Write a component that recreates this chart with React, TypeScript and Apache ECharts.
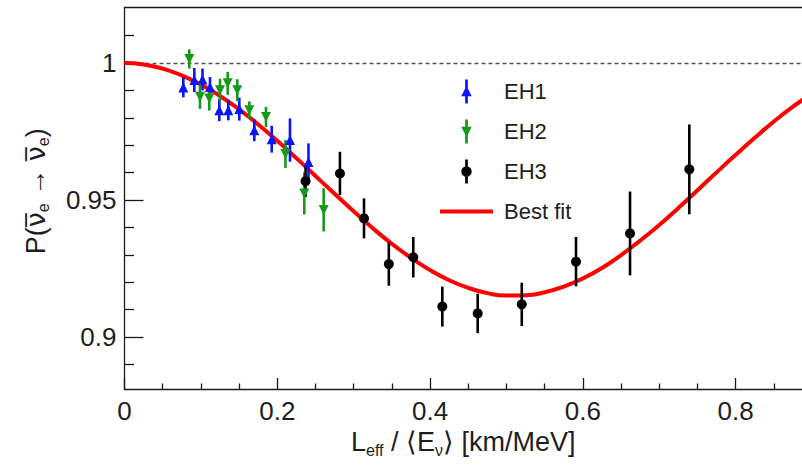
import React, { useEffect, useRef } from 'react';
import * as echarts from 'echarts';

// Axis ticks
const xMajorTicks = [0, 0.2, 0.4, 0.6, 0.8];
const xMinorTicks = [0.05, 0.1, 0.15, 0.25, 0.3, 0.35, 0.45, 0.5, 0.55, 0.65, 0.7, 0.75, 0.85];
const yMajorTicks = [0.9, 0.95, 1];
const yMinorTicks = [0.89, 0.91, 0.92, 0.93, 0.94, 0.96, 0.97, 0.98, 0.99, 1.01];

// EH1 (blue, up triangles)
const eh1X = [0.077, 0.0914, 0.1021, 0.1119, 0.1241, 0.1359, 0.1503, 0.1699, 0.1927, 0.2166, 0.2408];
const eh1Y = [0.9911, 0.9938, 0.994, 0.9913, 0.9828, 0.9828, 0.9832, 0.9755, 0.9722, 0.9719, 0.9639];
const eh1Err = [0.0036, 0.0044, 0.004, 0.0036, 0.004, 0.0037, 0.0042, 0.004, 0.0049, 0.0079, 0.0068];

// EH2 (green, down triangles)
const eh2X = [0.0848, 0.0988, 0.111, 0.125, 0.1351, 0.1476, 0.1634, 0.1852, 0.2107, 0.2353, 0.2607];
const eh2Y = [1.0015, 0.9877, 0.9871, 0.9901, 0.9926, 0.9901, 0.9828, 0.9803, 0.9668, 0.9524, 0.9464];
const eh2Err = [0.0035, 0.0044, 0.0044, 0.0042, 0.0042, 0.004, 0.0032, 0.0037, 0.0051, 0.0077, 0.0079];

// EH3 (black circles)
const eh3X = [0.237, 0.282, 0.3135, 0.346, 0.378, 0.416, 0.4623, 0.52, 0.591, 0.6617, 0.7393];
const eh3Y = [0.9569, 0.9597, 0.9433, 0.9266, 0.9291, 0.9111, 0.9086, 0.9119, 0.9275, 0.9378, 0.9612];
const eh3Err = [0.0058, 0.0079, 0.0073, 0.0079, 0.0074, 0.0073, 0.0072, 0.0079, 0.009, 0.0153, 0.0164];

// Best fit curve
const fitX = [0, 0.025, 0.05, 0.075, 0.1, 0.125, 0.15, 0.175, 0.2, 0.225, 0.25, 0.275, 0.3, 0.325, 0.35, 0.375, 0.4, 0.425, 0.45, 0.475, 0.5, 0.525, 0.55, 0.575, 0.6, 0.625, 0.65, 0.675, 0.7, 0.725, 0.75, 0.775, 0.8, 0.825, 0.85, 0.875, 0.9];
const fitY = [1.0, 0.9995, 0.998, 0.9955, 0.9922, 0.988, 0.9831, 0.9776, 0.9716, 0.9653, 0.9588, 0.9523, 0.9459, 0.9397, 0.934, 0.9289, 0.9244, 0.9207, 0.9179, 0.916, 0.9151, 0.9152, 0.9163, 0.9184, 0.9214, 0.9252, 0.9299, 0.9352, 0.9409, 0.9471, 0.9536, 0.9601, 0.9665, 0.9727, 0.9787, 0.9841, 0.9889];

const X_MIN = 0;
const X_MAX = 0.8868;
const Y_MIN = 0.881;
const Y_MAX = 1.0203;

const FONT = '"Liberation Sans", Arial, Helvetica, sans-serif';
const TXT = '#1e1e1e';
const AXIS_COLOR = '#1a1a1a';

const BLUE = '#0a14ff';
const GREEN = '#15991a';
const BLACK = '#000000';
const RED = '#ff0000';

function errSeries(name: string, xs: number[], ys: number[], es: number[], color: string) {
  return {
    type: 'custom',
    name: name + ' err',
    data: xs.map((x, i) => [x, ys[i], es[i]]),
    encode: { x: 0, y: 1 },
    z: 3,
    silent: true,
    renderItem: (params: any, api: any) => {
      const x = api.value(0);
      const y = api.value(1);
      const e = api.value(2);
      const p1 = api.coord([x, y + e]);
      const p2 = api.coord([x, y - e]);
      return {
        type: 'line',
        shape: { x1: p1[0], y1: p1[1], x2: p2[0], y2: p2[1] },
        style: { stroke: color, lineWidth: 2.6 },
      };
    },
  };
}

function pointSeries(name: string, xs: number[], ys: number[], color: string, symbol: string, rotate: number, size: number) {
  return {
    type: 'scatter',
    name,
    data: xs.map((x, i) => [x, ys[i]]),
    symbol,
    symbolRotate: rotate,
    symbolSize: size,
    itemStyle: { color, opacity: 1 },
    z: 4,
    silent: true,
  };
}

const axisLineStyle = { color: AXIS_COLOR, width: 1.3 };

export default function App() {
  const ref = useRef<HTMLDivElement>(null);

  useEffect(() => {
    if (!ref.current) return;
    const chart = echarts.init(ref.current, undefined, { renderer: 'svg' });

    const subStyle = { fontSize: 16, fontFamily: FONT, color: TXT, verticalAlign: 'bottom', lineHeight: 13 };
    const baseStyle = { fontSize: 27, fontFamily: FONT, color: TXT, lineHeight: 32 };
    const nuStyle = { fontSize: 27, fontFamily: '"DejaVu Sans", sans-serif', color: TXT, lineHeight: 32 };

    const option: any = {
      animation: false,
      backgroundColor: '#ffffff',
      grid: { left: 124.5, top: 7.5, right: 0, bottom: 85, containLabel: false },
      legend: {
        orient: 'vertical',
        left: 435,
        top: 74.5,
        itemWidth: 53,
        itemHeight: 24,
        itemGap: 16,
        selectedMode: false,
        textStyle: { fontSize: 22, fontFamily: FONT, color: TXT, padding: [0, 0, 0, 6], lineHeight: 24 },
        data: [
          { name: 'EH1', icon: 'path://M3.7,0H6.3V23H3.7Z M0,16L5,6L10,16Z' },
          { name: 'EH2', icon: 'path://M3.7,0H6.3V23H3.7Z M0,7L10,7L5,17Z' },
          { name: 'EH3', icon: 'path://M3.7,0H6.3V23H3.7Z M0,11.5A5,5 0 1,1 10,11.5A5,5 0 1,1 0,11.5Z' },
          { name: 'Best fit', icon: 'path://M0,0H53V4H0Z' },
        ],
      },
      xAxis: [
        {
          type: 'value', min: X_MIN, max: X_MAX, position: 'bottom',
          axisLine: { show: true, onZero: false, lineStyle: axisLineStyle },
          axisTick: { show: true, inside: true, length: 11, customValues: xMajorTicks, lineStyle: axisLineStyle },
          axisLabel: {
            customValues: xMajorTicks, fontSize: 26, fontFamily: FONT, color: TXT, margin: 9,
            formatter: (v: number) => String(Number(v.toFixed(3))),
          },
          splitLine: { show: false },
          name: '{b|L}{s|eff}{b| / ⟨E}{s|ν}{b|⟩ [km/MeV]}',
          nameLocation: 'middle',
          nameGap: 32,
          nameTextStyle: { fontSize: 27, fontFamily: FONT, color: TXT, rich: { b: baseStyle, s: subStyle } },
        },
        {
          type: 'value', min: X_MIN, max: X_MAX, position: 'bottom',
          axisLine: { show: false, onZero: false },
          axisTick: { show: true, inside: true, length: 5.5, customValues: xMinorTicks, lineStyle: axisLineStyle },
          axisLabel: { show: false },
          splitLine: { show: false },
        },
        {
          type: 'value', min: X_MIN, max: X_MAX, position: 'top',
          axisLine: { show: true, onZero: false, lineStyle: axisLineStyle },
          axisTick: { show: false },
          axisLabel: { show: false },
          splitLine: { show: false },
        },
      ],
      yAxis: [
        {
          type: 'value', min: Y_MIN, max: Y_MAX, position: 'left',
          axisLine: { show: true, onZero: false, lineStyle: axisLineStyle },
          axisTick: { show: true, inside: true, length: 19, customValues: yMajorTicks, lineStyle: axisLineStyle },
          axisLabel: {
            customValues: yMajorTicks, fontSize: 26, fontFamily: FONT, color: TXT, margin: 8,
            formatter: (v: number) => String(Number(v.toFixed(3))),
          },
          splitLine: { show: false },
          name: '{b|P(}{n|ν\u0305}{s|e}{b| → }{n|ν\u0305}{s|e}{b|)}',
          nameLocation: 'middle',
          nameRotate: 90,
          nameGap: 73,
          nameTextStyle: { fontSize: 27, fontFamily: FONT, color: TXT, padding: [0, 0, 0, 14], rich: { b: baseStyle, s: subStyle, n: nuStyle } },
        },
        {
          type: 'value', min: Y_MIN, max: Y_MAX, position: 'left',
          axisLine: { show: false, onZero: false },
          axisTick: { show: true, inside: true, length: 9.5, customValues: yMinorTicks, lineStyle: axisLineStyle },
          axisLabel: { show: false },
          splitLine: { show: false },
        },
      ],
      series: [
        {
          type: 'line',
          name: 'Best fit',
          data: fitX.map((x, i) => [x, fitY[i]]),
          smooth: true,
          showSymbol: false,
          symbol: 'none',
          lineStyle: { color: RED, width: 4 },
          itemStyle: { color: RED },
          z: 2,
          silent: true,
          markLine: {
            silent: true,
            symbol: 'none',
            label: { show: false },
            lineStyle: { color: '#555555', width: 1.4, type: [4, 3] },
            data: [{ yAxis: 1 }],
            z: 1,
          },
        },
        errSeries('EH1', eh1X, eh1Y, eh1Err, BLUE),
        errSeries('EH2', eh2X, eh2Y, eh2Err, GREEN),
        errSeries('EH3', eh3X, eh3Y, eh3Err, BLACK),
        pointSeries('EH1', eh1X, eh1Y, BLUE, 'triangle', 0, 10),
        pointSeries('EH2', eh2X, eh2Y, GREEN, 'triangle', 180, 10),
        pointSeries('EH3', eh3X, eh3Y, BLACK, 'circle', 0, 10),
      ],
    };

    chart.setOption(option);
    return () => chart.dispose();
  }, []);

  return (
    <div
      ref={ref}
      style={{ position: 'fixed', left: 0, top: 0, width: 802, height: 474, background: '#fff' }}
    />
  );
}
